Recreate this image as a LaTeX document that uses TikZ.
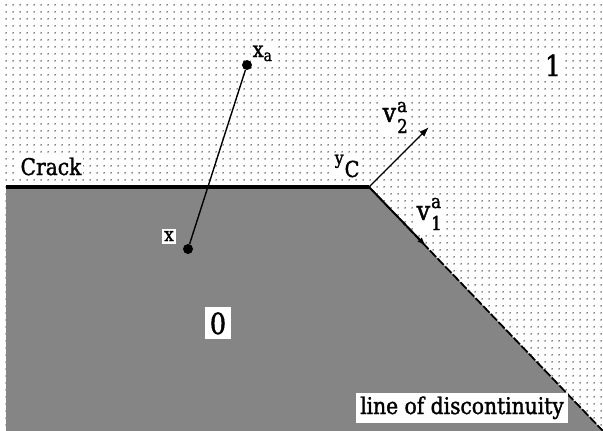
\documentclass[tikz,border=0pt]{standalone}
\usepackage{fontspec}
\setmainfont{DejaVu Serif}[FakeStretch=0.88,FakeBold=1.5]
\usetikzlibrary{patterns.meta,arrows.meta}
\begin{document}
\begin{tikzpicture}[x=1pt,y=-1pt,
  lbl/.style={fill=white,inner sep=1.5pt},
  dotnode/.style={circle,fill=black,inner sep=0pt,minimum size=10pt},
  vec/.style={line width=1.4pt,-{Latex[length=10pt,width=7pt]}}
  ]
\useasboundingbox (0,0) rectangle (603,431);
\fill[white] (0,0) rectangle (603,431);
\fill[pattern={Dots[distance=6.5pt,radius=0.8pt]},pattern color=black] (0,0) rectangle (603,431);
\coordinate (cs) at (6,187);
\coordinate (yC) at (369,187);
\coordinate (de) at (603,431);
\coordinate (bl) at (6,431);
\coordinate (v1t) at (426,246);
\coordinate (v2t) at (429,127);
\fill[black!48] (cs) -- (yC) -- (de) -- (bl) -- cycle;
\draw[line width=1.8pt, dash pattern=on 9pt off 2pt] (yC) -- (de);
\draw[line width=1.8pt,-{Latex[length=9pt,width=6pt]}] (yC) -- (v1t);
\draw[line width=4pt] (cs) -- (yC);
\draw[vec] (yC) -- (v2t);
\node[dotnode] (xa) at (247,65) {};
\node[dotnode] (x) at (188,249) {};
\draw[line width=1.4pt] (x) -- (xa);
\node[lbl,anchor=base,font=\fontsize{23}{26}\selectfont] (crack) at (51,175) {Crack};
\node[lbl,anchor=base west,font=\fontsize{22}{26}\selectfont] (xalbl) at (251,57) {x\raisebox{-4pt}{\fontsize{16}{19}\selectfont a}};
\node[lbl,inner sep=2.5pt,anchor=base,font=\fontsize{19}{22}\selectfont] (xlbl) at (169,241) {x};
\node[lbl,anchor=base west,font=\fontsize{18}{21}\selectfont] (yclbl) at (333,164) {y\kern1pt\raisebox{-13pt}{\fontsize{22}{26}\selectfont C}};
\node[lbl,anchor=base west,font=\fontsize{27}{30}\selectfont] (v2lbl) at (381,122) {v\kern1pt\rlap{\raisebox{10pt}{\fontsize{19}{22}\selectfont a}}\raisebox{-11pt}{\fontsize{19}{22}\selectfont 2}};
\node[lbl,anchor=base west,font=\fontsize{27}{30}\selectfont] (v1lbl) at (415,220) {v\kern1pt\rlap{\raisebox{12pt}{\fontsize{19}{22}\selectfont a}}\raisebox{-10pt}{\fontsize{19}{22}\selectfont 1}};
\node[lbl,inner sep=3pt,anchor=base,font=\fontsize{29}{32}\selectfont] (one) at (553,76) {1};
\node[lbl,inner sep=5pt,anchor=base,font=\fontsize{29}{32}\selectfont] (zero) at (218,334) {0};
\node[lbl,inner sep=4pt,anchor=base,font=\fontsize{23}{26}\selectfont] (lod) at (462,414) {line of discontinuity};
\end{tikzpicture}
\end{document}
